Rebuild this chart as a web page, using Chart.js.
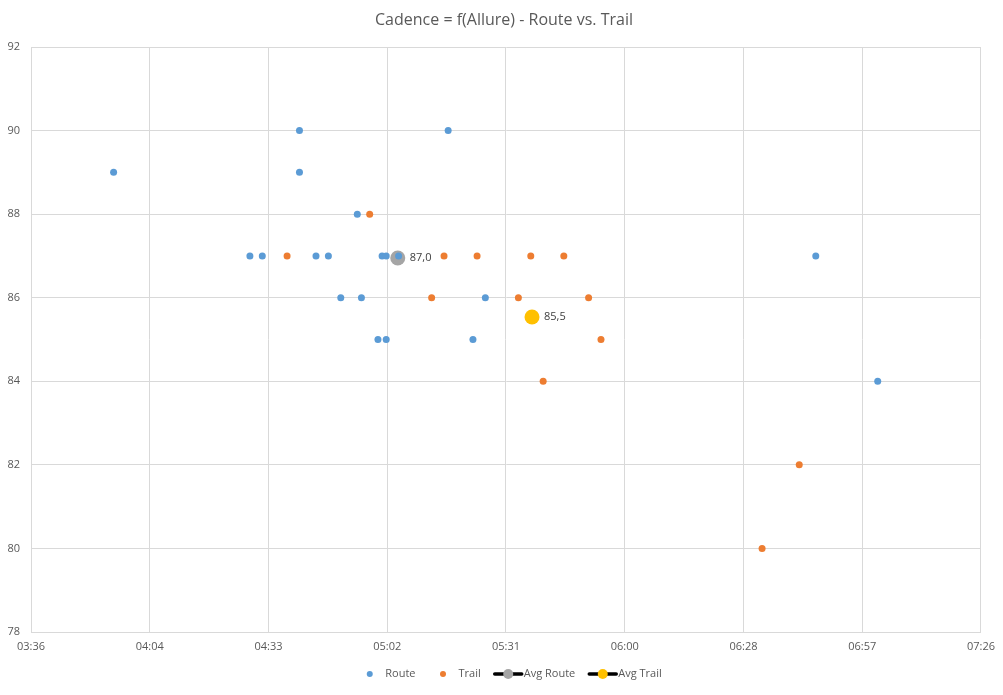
<!DOCTYPE html>
<html>
<head>
<meta charset="utf-8">
<script src="https://cdn.jsdelivr.net/npm/chart.js@4.4.1/dist/chart.umd.min.js"></script>
<style>
  html, body { margin: 0; padding: 0; background: #fff; }
  #wrap { width: 1003px; height: 695px; position: relative; }
</style>
</head>
<body>
<div id="wrap"><canvas id="cadenceChart"></canvas></div>
<script>
// Allure = pace in seconds per km, cadence
const routeAllure  = [236, 269, 272, 281, 281, 285, 288, 291, 295, 296, 300, 301, 302, 302, 305, 317, 323, 326, 406, 421];
const routeCadence = [89, 87, 87, 90, 89, 87, 87, 86, 88, 86, 85, 87, 87, 85, 87, 90, 85, 86, 87, 84];

const trailAllure  = [278, 298, 313, 316, 324, 334, 337, 340, 345, 351, 354, 393, 402];
const trailCadence = [87, 88, 86, 87, 87, 86, 87, 84, 87, 86, 85, 80, 82];

const avgRoute = [304.8, 86.95];
const avgTrail = [337.3, 85.54];

const xTickLabels = ["03:36", "04:04", "04:33", "05:02", "05:31", "06:00", "06:28", "06:57", "07:26"];
const X_MIN = 216, X_STEP = 28.75;
const X_MAX = X_MIN + X_STEP * (xTickLabels.length - 1);

const FONT = "'Open Sans', 'Noto Sans', sans-serif";
const TEXT_COLOR = "#595959";
const GRID_COLOR = "#d9d9d9";

const legendItems = [
  { label: "Route", color: "#5B9BD5", line: false },
  { label: "Trail", color: "#ED7D31", line: false },
  { label: "Avg Route", color: "#A5A5A5", line: true },
  { label: "Avg Trail", color: "#FFC000", line: true }
];

function toPoints(xs, ys) {
  return xs.map((x, i) => ({ x: x, y: ys[i] }));
}

// title, legend and the two average labels are drawn by hand (Excel look)
const overlay = {
  id: "overlay",
  afterDatasetsDraw(chart) {
    const ctx = chart.ctx;
    ctx.save();
    ctx.font = "11px " + FONT;
    ctx.fillStyle = "#404040";
    ctx.textAlign = "left";
    ctx.textBaseline = "middle";
    [2, 3].forEach(di => {
      const pt = chart.getDatasetMeta(di).data[0];
      const val = chart.data.datasets[di].data[0].y;
      ctx.fillText(val.toFixed(1).replace(".", ","), pt.x + 12, pt.y);
    });
    ctx.restore();
  },
  afterDraw(chart) {
    const ctx = chart.ctx;
    ctx.save();
    // title
    ctx.font = "16px " + FONT;
    ctx.fillStyle = TEXT_COLOR;
    ctx.textAlign = "center";
    ctx.textBaseline = "middle";
    ctx.fillText("Cadence = f(Allure) - Route vs. Trail", 504, 20);

    // legend
    ctx.font = "11px " + FONT;
    const symW = 31, gap = 12, ly = 674;
    const widths = legendItems.map(it => ctx.measureText(it.label).width);
    const total = legendItems.length * symW + widths.reduce((a, b) => a + b, 0) + gap * (legendItems.length - 1);
    let x = 508 - total / 2;
    legendItems.forEach((it, i) => {
      const cx = x + symW / 2;
      if (it.line) {
        ctx.strokeStyle = "#000";
        ctx.lineWidth = 3.5;
        ctx.lineCap = "round";
        ctx.beginPath();
        ctx.moveTo(x + 2, ly);
        ctx.lineTo(x + symW - 2, ly);
        ctx.stroke();
        ctx.fillStyle = it.color;
        ctx.beginPath();
        ctx.arc(cx, ly, 5, 0, Math.PI * 2);
        ctx.fill();
      } else {
        ctx.fillStyle = it.color;
        ctx.beginPath();
        ctx.arc(cx, ly, 3, 0, Math.PI * 2);
        ctx.fill();
      }
      ctx.fillStyle = TEXT_COLOR;
      ctx.textAlign = "left";
      ctx.fillText(it.label, x + symW, ly);
      x += symW + widths[i] + gap;
    });
    ctx.restore();
  }
};

new Chart(document.getElementById("cadenceChart"), {
  type: "scatter",
  data: {
    datasets: [
      { label: "Route", data: toPoints(routeAllure, routeCadence), backgroundColor: "#5B9BD5", pointRadius: 3.5, borderWidth: 0 },
      { label: "Trail", data: toPoints(trailAllure, trailCadence), backgroundColor: "#ED7D31", pointRadius: 3.5, borderWidth: 0 },
      { label: "Avg Route", data: [{ x: avgRoute[0], y: avgRoute[1] }], backgroundColor: "#A5A5A5", pointRadius: 7.5, borderWidth: 0 },
      { label: "Avg Trail", data: [{ x: avgTrail[0], y: avgTrail[1] }], backgroundColor: "#FFC000", pointRadius: 7.5, borderWidth: 0 }
    ]
  },
  options: {
    responsive: true,
    maintainAspectRatio: false,
    animation: false,
    events: [],
    layout: { padding: { top: 47, right: 22, left: 0, bottom: 0 } },
    plugins: {
      legend: { display: false },
      title: { display: false },
      tooltip: { enabled: false }
    },
    scales: {
      x: {
        type: "linear",
        min: X_MIN,
        max: X_MAX,
        afterBuildTicks: s => { s.ticks = xTickLabels.map((_, i) => ({ value: X_MIN + i * X_STEP })); },
        afterFit: s => { s.height = 63; },
        grid: { color: GRID_COLOR, drawTicks: false },
        border: { color: GRID_COLOR },
        ticks: {
          callback: (v, i) => xTickLabels[i],
          padding: 8,
          color: TEXT_COLOR,
          font: { family: FONT, size: 11 },
          maxRotation: 0,
          autoSkip: false
        }
      },
      y: {
        min: 78,
        max: 92,
        afterFit: s => { s.width = 31; },
        grid: { color: GRID_COLOR, drawTicks: false },
        border: { color: GRID_COLOR },
        ticks: {
          stepSize: 2,
          padding: 11,
          color: TEXT_COLOR,
          font: { family: FONT, size: 11 }
        }
      }
    }
  },
  plugins: [overlay]
});
</script>
</body>
</html>
